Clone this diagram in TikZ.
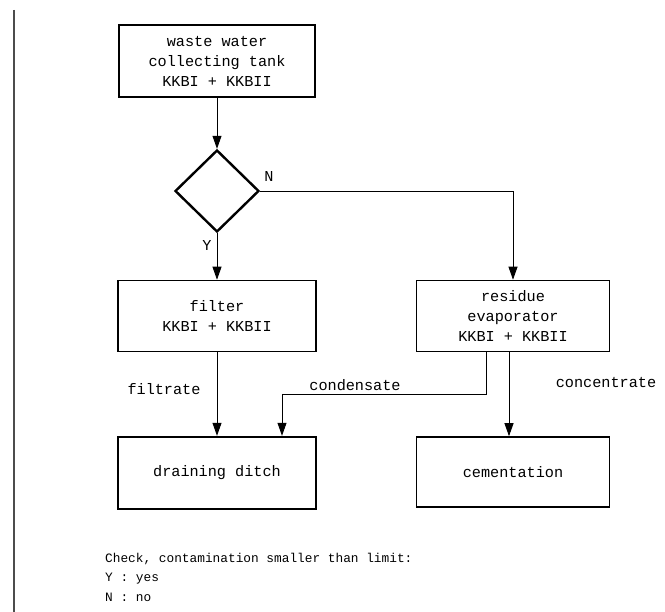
\documentclass[tikz,border=0pt]{standalone}
\usepackage{fontspec}
\setmonofont{Liberation Mono}
\usetikzlibrary{shapes.geometric,arrows.meta}

\tikzset{
  heavybox/.style={draw, line width=2.4pt, align=center, inner sep=0pt},
  lightbox/.style={draw, line width=1.6pt, align=center, inner sep=0pt},
  flow/.style={draw, line width=0.9pt, -{Triangle[length=13pt,width=9pt]}},
  plain/.style={draw, line width=0.9pt},
  tag/.style={inner sep=1pt}
}

\begin{document}
\begin{tikzpicture}[x=1pt, y=-1pt, font=\ttfamily\fontsize{15.2}{20}\selectfont]
    \useasboundingbox (0,0) rectangle (665,612);
    \draw[line width=1.6pt, black!70] (14,10) -- (14,612);

    \node[heavybox, minimum width=196pt, minimum height=72pt] (tank) at (217,61) {waste water\\collecting tank\\KKBI + KKBII};
    \node[draw, line width=2.4pt, shape=diamond, minimum width=84pt, minimum height=82pt, inner sep=0pt] (check) at (217,191) {};
    \node[lightbox, minimum width=198pt, minimum height=71pt] (filter) at (217,316) {filter\\KKBI + KKBII};
    \node[lightbox, minimum width=193pt, minimum height=71pt] (evap) at (513,316) {residue\\evaporator\\KKBI + KKBII};
    \node[heavybox, minimum width=198pt, minimum height=72pt] (ditch) at (217,473) {draining ditch};
    \node[lightbox, minimum width=193pt, minimum height=70pt] (cement) at (513,472) {cementation};

    \draw[flow] (tank.south) -- (check.north);
    \draw[flow] (check.east) -| (evap.north);
    \draw[flow] (check.south) -- (filter.north);
    \draw[flow] (filter.south) -- (ditch.north);
    \coordinate (bend) at (282,394);
    \draw[plain] ([xshift=-27pt]evap.south) |- (bend);
    \draw[flow] (bend) -- (bend |- ditch.north);
    \draw[flow] ([xshift=-4pt]evap.south) -- ([xshift=-4pt]cement.north);

    \node[tag] (nlabel) at (269,176) {N};
    \node[tag] (ylabel) at (207,245) {Y};
    \node[tag] (filtrate) at (164,389) {filtrate};
    \node[tag] (condensate) at (355,385) {condensate};
    \node[tag] (concentrate) at (606,383) {concentrate};

    \node[anchor=north west, align=left, inner sep=0pt, font=\ttfamily\fontsize{12.8}{19.5}\selectfont] (legend) at (105,553)
        {Check, contamination smaller than limit:\\Y : yes\\N : no};
\end{tikzpicture}
\end{document}
